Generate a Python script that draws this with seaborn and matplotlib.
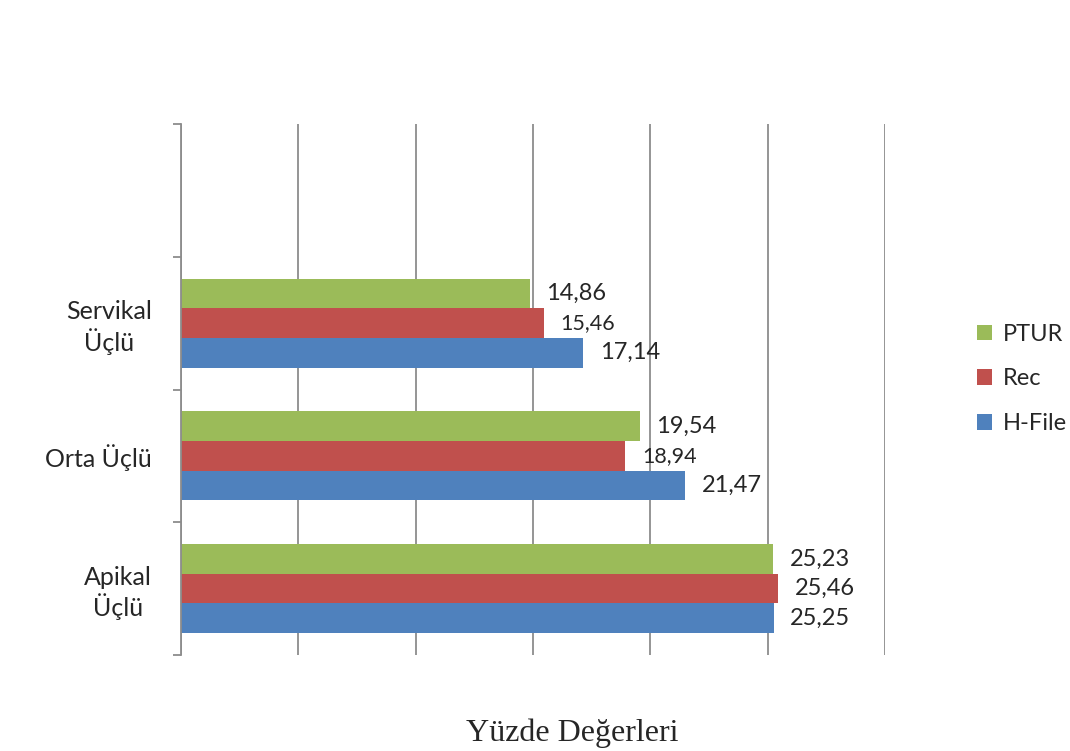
import pandas as pd
import seaborn as sns
import matplotlib.pyplot as plt
from matplotlib.ticker import MultipleLocator, FixedLocator

# values (percent)
categories = ['Servikal\nÜçlü', 'Orta Üçlü', 'Apikal\nÜçlü']
series = ['PTUR', 'Rec', 'H-File']
ptur = [14.86, 19.54, 25.23]
rec = [15.46, 18.94, 25.46]
hfile = [17.14, 21.47, 25.25]
colors = ['#9BBB59', '#C0504D', '#4F81BD']

df = pd.DataFrame({
    'kategori': categories * 3,
    'seri': [s for s in series for _ in categories],
    'deger': ptur + rec + hfile,
})

sns.set_style('white')
plt.rcParams['font.family'] = ['Lato', 'DejaVu Sans']

fig = plt.figure(figsize=(10.7, 7.51), dpi=100)
ax = fig.add_axes([0.1692, 0.1278, 0.6579, 0.7071])

sns.barplot(data=df, x='deger', y='kategori', hue='seri', order=categories,
            hue_order=series, palette=colors, width=0.67, orient='h',
            saturation=1, edgecolor='none', ax=ax)

# value labels; the red ones are printed a bit smaller in the original
for cont, fs in zip(ax.containers, [17, 15.5, 17]):
    ax.bar_label(cont, labels=[f'{v:.2f}'.replace('.', ',') for v in cont.datavalues],
                 padding=12, fontsize=fs)
ax.texts[5].set_fontsize(17)  # 25,46 is drawn larger

ax.set_xlim(0, 30)
ax.set_ylim(2.5, -1.5)
ax.xaxis.set_major_locator(MultipleLocator(5))
ax.grid(axis='x', color='#8c8c8c', linewidth=1.3)
ax.grid(axis='y', visible=False)
ax.tick_params(axis='x', bottom=False, labelbottom=False)

# category boundaries carry the tick marks, the labels sit between them
ax.yaxis.set_major_locator(FixedLocator([-1.5, -0.5, 0.5, 1.5, 2.5]))
ax.yaxis.set_major_formatter(plt.NullFormatter())
ax.yaxis.set_minor_locator(FixedLocator([0, 1, 2]))
ax.set_yticklabels(categories, minor=True, fontsize=18, ha='right',
                   multialignment='center', linespacing=1.2)
ax.tick_params(axis='y', which='major', left=True, length=6, width=1.3,
               color='#8c8c8c', direction='out')
ax.tick_params(axis='y', which='minor', left=False, pad=19)

for side in ['top', 'right', 'bottom']:
    ax.spines[side].set_visible(False)
ax.spines['left'].set_color('#8c8c8c')
ax.spines['left'].set_linewidth(1.3)

ax.set_xlabel('')
ax.set_ylabel('')

handles, lbls = ax.get_legend_handles_labels()
ax.legend(handles, lbls, loc='center left', bbox_to_anchor=(1.1, 0.52),
          frameon=False, fontsize=17, handlelength=0.65, handleheight=0.65,
          handletextpad=0.45, labelspacing=1.0)

fig.text(0.535, 0.024, 'Yüzde Değerleri', family='Liberation Serif',
         fontsize=23, ha='center', va='center')

fig.savefig('out.png', dpi=100)
